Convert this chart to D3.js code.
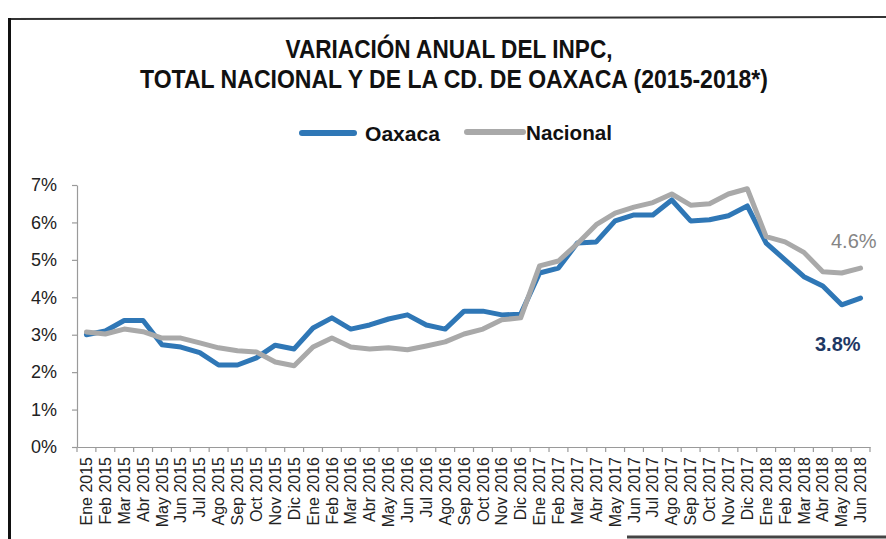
<!DOCTYPE html>
<html><head><meta charset="utf-8">
<script src="https://cdn.jsdelivr.net/npm/d3@7"></script>
<style>
html,body{margin:0;padding:0;background:#fff;}
svg{display:block;}
</style></head>
<body>
<svg id="chart" width="886" height="539"></svg>
<script>
const months = ["Ene 2015","Feb 2015","Mar 2015","Abr 2015","May 2015","Jun 2015","Jul 2015","Ago 2015","Sep 2015","Oct 2015","Nov 2015","Dic 2015",
"Ene 2016","Feb 2016","Mar 2016","Abr 2016","May 2016","Jun 2016","Jul 2016","Ago 2016","Sep 2016","Oct 2016","Nov 2016","Dic 2016",
"Ene 2017","Feb 2017","Mar 2017","Abr 2017","May 2017","Jun 2017","Jul 2017","Ago 2017","Sep 2017","Oct 2017","Nov 2017","Dic 2017",
"Ene 2018","Feb 2018","Mar 2018","Abr 2018","May 2018","Jun 2018"];
const oaxaca = [3.00,3.10,3.38,3.38,2.73,2.67,2.52,2.19,2.19,2.38,2.72,2.62,
3.18,3.45,3.15,3.26,3.42,3.53,3.26,3.15,3.63,3.63,3.53,3.55,
4.65,4.78,5.45,5.48,6.04,6.20,6.20,6.60,6.04,6.07,6.18,6.44,
5.45,5.00,4.55,4.30,3.80,3.98];
const nacional = [3.07,3.02,3.15,3.08,2.91,2.91,2.78,2.65,2.57,2.54,2.27,2.17,
2.67,2.91,2.67,2.62,2.65,2.60,2.70,2.81,3.02,3.15,3.40,3.45,
4.84,4.97,5.43,5.94,6.25,6.41,6.53,6.76,6.46,6.50,6.76,6.90,
5.62,5.48,5.20,4.68,4.65,4.78];
const yTicks = [0,1,2,3,4,5,6,7];
const titleLines = ["VARIACIÓN ANUAL DEL INPC,","TOTAL NACIONAL Y DE LA CD. DE OAXACA (2015-2018*)"];
const seriesNames = ["Oaxaca","Nacional"];
const endLabels = ["3.8%","4.6%"];

(function(){
const svg = d3.select("#chart");
const blue = "#2f77b6", gray = "#a9a9a9";
const axisColor = "#9a9a9a";
const pLeft = 77, pRight = 870, pTop = 185, pBottom = 447;

// frame
svg.append("line").attr("x1",9).attr("x2",886).attr("y1",19).attr("y2",17).attr("stroke","#333").attr("stroke-width",2);
svg.append("line").attr("x1",9.5).attr("x2",9.5).attr("y1",18).attr("y2",539).attr("stroke","#111").attr("stroke-width",3);
svg.append("line").attr("x1",627).attr("x2",886).attr("y1",537).attr("y2",537).attr("stroke","#444").attr("stroke-width",3);

// title
const tf = "'Liberation Sans Narrow','Arial Narrow','Liberation Sans',Arial,sans-serif";
svg.append("text").attr("x",449).attr("y",58).attr("text-anchor","middle")
  .attr("font-family",tf).attr("font-weight","bold").attr("font-size",26).attr("fill","#111")
  .attr("textLength",327).attr("lengthAdjust","spacingAndGlyphs").text(titleLines[0]);
svg.append("text").attr("x",454).attr("y",88).attr("text-anchor","middle")
  .attr("font-family",tf).attr("font-weight","bold").attr("font-size",26).attr("fill","#111")
  .attr("textLength",628).attr("lengthAdjust","spacingAndGlyphs").text(titleLines[1]);

// legend
const lg = svg.append("g");
lg.append("line").attr("x1",302).attr("x2",354).attr("y1",133).attr("y2",133).attr("stroke",blue).attr("stroke-width",6).attr("stroke-linecap","round");
lg.append("text").attr("x",365).attr("y",141).attr("font-family",tf).attr("font-weight","bold").attr("font-size",21).attr("fill","#111")
  .attr("textLength",75).attr("lengthAdjust","spacingAndGlyphs").text(seriesNames[0]);
lg.append("line").attr("x1",467).attr("x2",523).attr("y1",132).attr("y2",132).attr("stroke",gray).attr("stroke-width",6).attr("stroke-linecap","round");
lg.append("text").attr("x",526).attr("y",140).attr("font-family",tf).attr("font-weight","bold").attr("font-size",21).attr("fill","#111")
  .attr("textLength",86).attr("lengthAdjust","spacingAndGlyphs").text(seriesNames[1]);

// scales
const x = d3.scaleBand().domain(months).range([pLeft,pRight]).padding(0);
const y = d3.scaleLinear().domain([0,7]).range([pBottom,pTop]);
const cx = d => x(d) + x.bandwidth()/2;

// y axis
const ya = svg.append("g").attr("transform",`translate(${pLeft},0)`)
  .call(d3.axisLeft(y).tickValues(yTicks).tickFormat(d => d + "%").tickSize(5).tickPadding(15).tickSizeOuter(0));
ya.select(".domain").attr("stroke",axisColor).attr("stroke-width",1.2);
ya.selectAll(".tick line").attr("stroke",axisColor).attr("stroke-width",1.2);
ya.selectAll("text").attr("font-family","'Liberation Sans',Arial,sans-serif").attr("font-size",18).attr("fill","#222");

// x axis
const xa = svg.append("g").attr("transform",`translate(0,${pBottom})`)
  .call(d3.axisBottom(x).tickSize(0).tickPadding(0).tickSizeOuter(0));
xa.select(".domain").attr("stroke",axisColor).attr("stroke-width",1.2);
xa.selectAll("text").attr("font-family","'Liberation Sans',Arial,sans-serif").attr("font-size",16).attr("fill","#222")
  .attr("transform","rotate(-90)").attr("x",-10).attr("y",0).attr("dy","0.35em").attr("text-anchor","end");
const bounds = months.map(m => x(m)).concat([x.range()[1]]);
svg.append("g").selectAll("line").data(bounds).join("line")
  .attr("x1",d=>d).attr("x2",d=>d).attr("y1",pBottom).attr("y2",pBottom+5)
  .attr("stroke",axisColor).attr("stroke-width",1.2);

// lines
const line = d3.line().x((d,i) => cx(months[i])).y(d => y(d)).curve(d3.curveLinear);
svg.append("path").datum(oaxaca).attr("d",line).attr("fill","none").attr("stroke",blue).attr("stroke-width",5).attr("stroke-linejoin","round").attr("stroke-linecap","round");
svg.append("path").datum(nacional).attr("d",line).attr("fill","none").attr("stroke",gray).attr("stroke-width",5).attr("stroke-linejoin","round").attr("stroke-linecap","round");

// end labels
svg.append("text").attr("x",815).attr("y",351).attr("font-family","'Liberation Sans',Arial,sans-serif").attr("font-weight","bold")
  .attr("font-size",20).attr("fill","#1f3864").text(endLabels[0]);
svg.append("text").attr("x",831).attr("y",248).attr("font-family","'Liberation Sans',Arial,sans-serif")
  .attr("font-size",20).attr("fill","#858585").text(endLabels[1]);
})();
</script>
</body></html>
